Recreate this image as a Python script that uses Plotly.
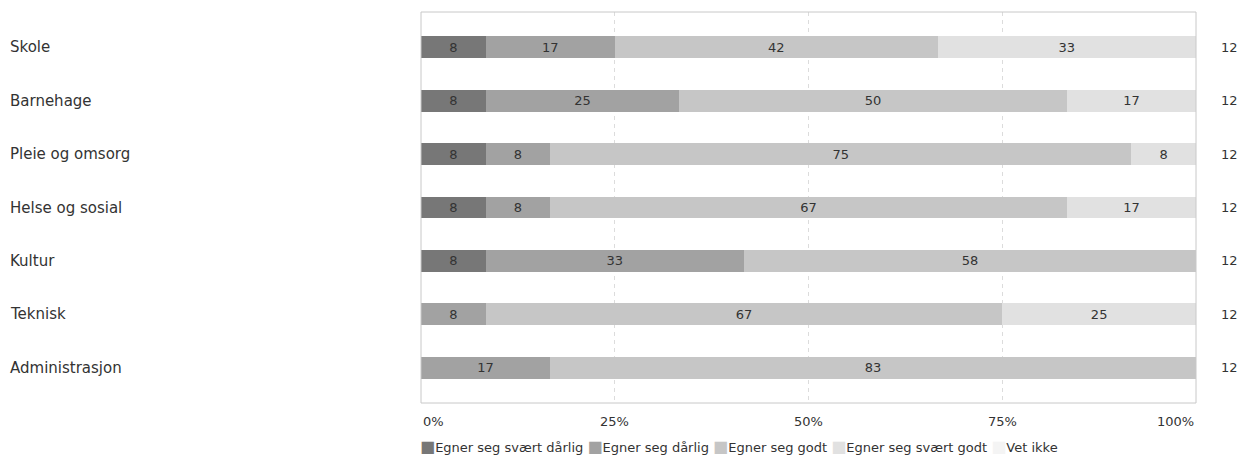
import plotly.graph_objects as go

# Survey: how well each sector suits (counts of respondents, n per sector)
sectors = ["Skole", "Barnehage", "Pleie og omsorg", "Helse og sosial",
           "Kultur", "Teknisk", "Administrasjon"]
answers = ["Egner seg svært dårlig", "Egner seg dårlig", "Egner seg godt",
           "Egner seg svært godt", "Vet ikke"]
colors = ["#777777", "#a2a2a2", "#c6c6c6", "#e1e1e1", "#f4f4f4"]

svaert_darlig = [1, 1, 1, 1, 1, 0, 0]
darlig = [2, 3, 1, 1, 4, 1, 2]
godt = [5, 6, 9, 8, 7, 8, 10]
svaert_godt = [4, 2, 1, 2, 0, 3, 0]
vet_ikke = [0, 0, 0, 0, 0, 0, 0]
n_total = [12, 12, 12, 12, 12, 12, 12]

x_ticks = [0, 25, 50, 75, 100]
x_tick_labels = ["0%", "25%", "50%", "75%", "100%"]

series = [svaert_darlig, darlig, godt, svaert_godt, vet_ikke]

FONT = "DejaVu Sans, Verdana, sans-serif"
FS = 13
TXT = "#333333"
L, R, T, B = 421, 48, 12, 52
W, H = 1244, 455
plot_w = W - L - R

fig = go.Figure()
for name, counts, col in zip(answers, series, colors):
    pct = [100.0 * c / n for c, n in zip(counts, n_total)]
    text = [f"{p:.0f}" if p > 0 else "" for p in pct]
    fig.add_trace(go.Bar(
        y=list(range(len(sectors))), x=pct, name=name, orientation="h",
        width=0.41, marker=dict(color=col, line=dict(width=0)),
        text=text, textposition="inside", insidetextanchor="middle",
        textfont=dict(family=FONT, size=FS, color=TXT),
        constraintext="none", showlegend=False, hoverinfo="skip",
    ))

annotations = []
# Sector names on the left, respondent count on the right
for i, s in enumerate(sectors):
    annotations.append(dict(
        x=(8 - L) / plot_w, xref="paper", y=i, yref="y", text=s,
        xanchor="left", yanchor="middle", showarrow=False,
        font=dict(family=FONT, size=15, color=TXT)))
    annotations.append(dict(
        x=(1240 - L) / plot_w, xref="paper", y=i, yref="y", text=str(n_total[i]),
        xanchor="right", yanchor="middle", showarrow=False,
        font=dict(family=FONT, size=FS, color=TXT)))

# Percent labels under the axis
for v, lab in zip(x_ticks, x_tick_labels):
    anchor = "left" if v == 0 else ("right" if v == 100 else "center")
    annotations.append(dict(
        x=v, xref="x", y=0, yref="paper", yshift=-18, text=lab,
        xanchor=anchor, yanchor="middle", showarrow=False,
        font=dict(family=FONT, size=FS, color=TXT)))

# Legend row
legend_html = " ".join(
    f"<span style='color:{c};font-size:16px'>■</span>{a}" for a, c in zip(answers, colors))
annotations.append(dict(
    x=0, xref="paper", xshift=-3, y=0, yref="paper", yshift=-43, text=legend_html,
    xanchor="left", yanchor="middle", showarrow=False,
    font=dict(family=FONT, size=FS, color=TXT)))

fig.update_layout(
    barmode="stack", width=W, height=H,
    margin=dict(l=L, r=R, t=T, b=B),
    paper_bgcolor="white", plot_bgcolor="white",
    xaxis=dict(range=[0, 100], tickvals=x_ticks[1:-1], showticklabels=False,
               showgrid=True, gridcolor="#dcdcdc", griddash="4px,4px", gridwidth=1,
               zeroline=False, showline=False, fixedrange=True),
    yaxis=dict(range=[6.66, -0.66], showticklabels=False, showgrid=False,
               zeroline=False, showline=False, fixedrange=True),
    annotations=annotations,
    shapes=[dict(type="rect", xref="paper", yref="paper", x0=0, x1=1, y0=0, y1=1,
                 line=dict(color="#c8c8c8", width=1), layer="above")],
)

fig.write_html("out.html")
